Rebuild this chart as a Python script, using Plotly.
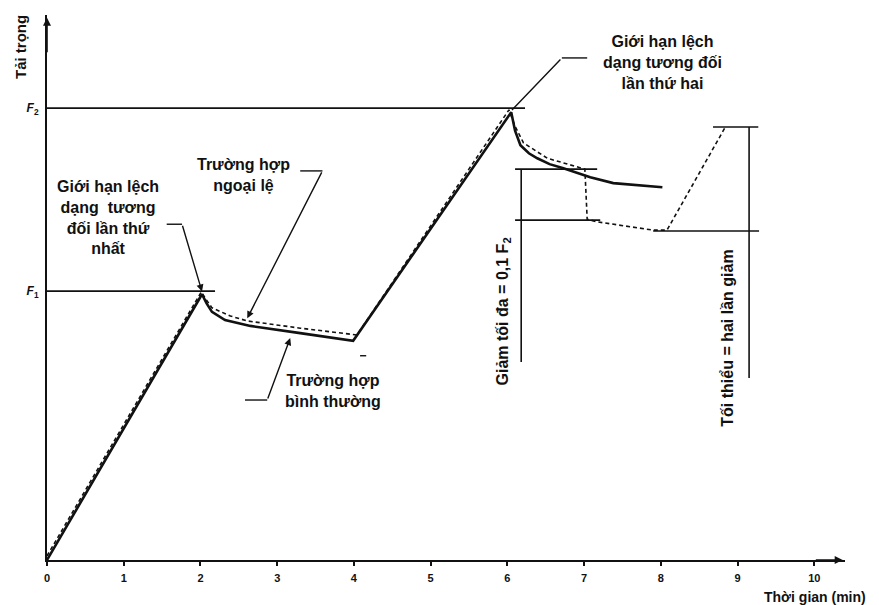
import plotly.graph_objects as go

# ---------------- data ----------------
F1 = 59.5
F2 = 100.0

x_ticks = [0, 1, 2, 3, 4, 5, 6, 7, 8, 9, 10]
x_tick_labels = [str(v) for v in x_ticks]
y_ticks = [F1, F2]
y_tick_labels = ["<b><i>F</i><sub>1</sub></b>", "<b><i>F</i><sub>2</sub></b>"]

# "Trường hợp bình thường" (solid)
normal_t = [0, 2.02, 2.08, 2.15, 2.32, 2.65, 3.30, 3.99,
            6.05, 6.10, 6.17, 6.28, 6.39, 6.55, 6.73, 7.08, 7.38, 7.70, 8.02]
normal_load = [0, 58.8, 56.8, 54.9, 53.1, 51.8, 50.2, 48.5,
               99.1, 95.0, 91.8, 90.0, 88.9, 87.6, 86.7, 84.7, 83.4, 82.9, 82.5]

# "Trường hợp ngoại lệ" (dashed)
exc_t = [0, 2.01, 2.08, 2.15, 2.39, 2.61, 3.30, 4.04,
         6.02, 6.10, 6.21, 6.52, 7.01, 7.04, 7.18, 7.90, 8.08, 8.84]
exc_load = [0.9, 59.3, 57.5, 55.8, 54.0, 52.9, 51.3, 49.8,
            99.6, 96.0, 92.3, 88.9, 86.5, 75.4, 74.8, 73.0, 73.0, 95.8]

# horizontal reference lines: level, start, end
ref_h_level = [F2, F1, 86.5, 75.2, 95.8, 72.8]
ref_h_start = [0, 0, 6.10, 6.10, 8.68, 7.90]
ref_h_end = [6.23, 2.19, 7.17, 7.21, 9.27, 9.28]

# vertical measuring lines: position, top, bottom
ref_v_pos = [6.18, 9.15]
ref_v_top = [86.5, 95.8]
ref_v_bottom = [43.8, 40.3]

FONT = "Liberation Sans, Arial, sans-serif"
BLACK = "#111111"

fig = go.Figure()

fig.add_trace(go.Scatter(x=exc_t, y=exc_load, mode="lines",
                         line=dict(color=BLACK, width=1.6, dash="4px,3px"),
                         showlegend=False, hoverinfo="skip"))
fig.add_trace(go.Scatter(x=normal_t, y=normal_load, mode="lines",
                         line=dict(color=BLACK, width=2.6),
                         showlegend=False, hoverinfo="skip"))

shapes = []
for lv, x0, x1 in zip(ref_h_level, ref_h_start, ref_h_end):
    shapes.append(dict(type="line", xref="x", yref="y", x0=x0, x1=x1, y0=lv, y1=lv,
                       line=dict(color=BLACK, width=1.6)))
for xv, y0, y1 in zip(ref_v_pos, ref_v_top, ref_v_bottom):
    shapes.append(dict(type="line", xref="x", yref="y", x0=xv, x1=xv, y0=y0, y1=y1,
                       line=dict(color=BLACK, width=1.6)))

# leader lines (horizontal parts)
leaders_h = [(1.56, 1.76, 74.3), (3.30, 3.59, 86.1), (2.58, 2.87, 35.4), (6.71, 7.04, 111.1)]
for x0, x1, yy in leaders_h:
    shapes.append(dict(type="line", xref="x", yref="y", x0=x0, x1=x1, y0=yy, y1=yy,
                       line=dict(color=BLACK, width=1.4)))
# small stray dash
shapes.append(dict(type="line", xref="x", yref="y", x0=4.08, x1=4.16, y0=45.2, y1=45.2,
                   line=dict(color=BLACK, width=1.4)))

annotations = []
# diagonal leaders with arrowheads (head, tail)
diag = [((2.02, 59.4), (1.76, 74.3), 2),
        ((2.61, 53.5), (3.59, 86.1), 2),
        ((3.17, 49.1), (2.87, 35.4), 2),
        ((6.06, 99.6), (6.71, 111.1), 0)]
for (hx, hy), (tx, ty), head in diag:
    annotations.append(dict(x=hx, y=hy, ax=tx, ay=ty, xref="x", yref="y", axref="x", ayref="y",
                            text="", showarrow=True, arrowhead=head, arrowsize=1.0,
                            arrowwidth=1.4, arrowcolor=BLACK, standoff=0))

# axis arrowheads
annotations.append(dict(x=10.37, y=0, ax=10.0, ay=0, xref="x", yref="y", axref="x", ayref="y",
                        text="", showarrow=True, arrowhead=2, arrowsize=1.0, arrowwidth=1.6,
                        arrowcolor=BLACK))
annotations.append(dict(x=0, y=120.0, ax=0, ay=112.0, xref="x", yref="y", axref="x", ayref="y",
                        text="", showarrow=True, arrowhead=2, arrowsize=1.0, arrowwidth=1.6,
                        arrowcolor=BLACK))

txt_font = dict(family=FONT, size=16, color=BLACK)
labels = [
    ("Giới hạn lệch<br>dạng  tương<br>đối lần thứ<br>nhất", 0.80, 75.8),
    ("Trường hợp<br>ngoại lệ", 2.56, 85.2),
    ("Trường hợp<br>bình thường", 3.73, 37.4),
    ("Giới hạn lệch<br>dạng tương đối<br>lần thứ hai", 8.02, 110.0),
]
for t, xx, yy in labels:
    annotations.append(dict(x=xx, y=yy, xref="x", yref="y", text="<b>%s</b>" % t.replace("<br>", "</b><br><b>"),
                            showarrow=False, font=txt_font, align="center",
                            xanchor="center", yanchor="middle"))

annotations.append(dict(x=5.95, y=54.9, xref="x", yref="y",
                        text="<b>Giảm tối đa = 0,1 F<sub>2</sub></b>", textangle=-90, showarrow=False,
                        xanchor="center", yanchor="middle",
                        font=dict(family=FONT, size=16, color=BLACK)))
annotations.append(dict(x=8.87, y=49.1, xref="x", yref="y",
                        text="<b>Tối thiểu = hai lần giảm</b>", textangle=-90, showarrow=False,
                        xanchor="center", yanchor="middle",
                        font=dict(family=FONT, size=16, color=BLACK)))

annotations.append(dict(x=-0.034, y=0.941, xref="paper", yref="paper", text="<b>Tải trọng</b>",
                        textangle=-90, showarrow=False, xanchor="center", yanchor="middle",
                        font=dict(family=FONT, size=15, color=BLACK)))
annotations.append(dict(x=1.029, y=-0.068, xref="paper", yref="paper",
                        text="<b>Thời gian (min)</b>", showarrow=False, xanchor="right",
                        yanchor="middle",
                        font=dict(family=FONT, size=14, color=BLACK)))

# page body has an 8px margin: shrink the figure so the plot area lands where the reference has it
fig.update_layout(
    width=871, height=597,
    margin=dict(l=39, r=34, t=7, b=45, autoexpand=False),
    paper_bgcolor="white", plot_bgcolor="white",
    shapes=shapes, annotations=annotations,
    showlegend=False,
    xaxis=dict(range=[0, 10.4], showgrid=False, zeroline=False, showline=True,
               linecolor=BLACK, linewidth=2, ticks="outside", ticklen=4, tickwidth=1.5,
               tickcolor=BLACK, tickvals=x_ticks, ticktext=["<b>%s</b>" % s for s in x_tick_labels],
               ticklabelstandoff=3,
               tickfont=dict(family=FONT, size=11, color=BLACK), automargin=False),
    yaxis=dict(range=[0, 120.6], showgrid=False, zeroline=False, showline=True,
               linecolor=BLACK, linewidth=2, ticks="", tickvals=y_ticks, ticktext=y_tick_labels,
               ticklabelstandoff=4,
               tickfont=dict(family=FONT, size=12, color=BLACK), automargin=False),
)

fig.write_html("out.html")
